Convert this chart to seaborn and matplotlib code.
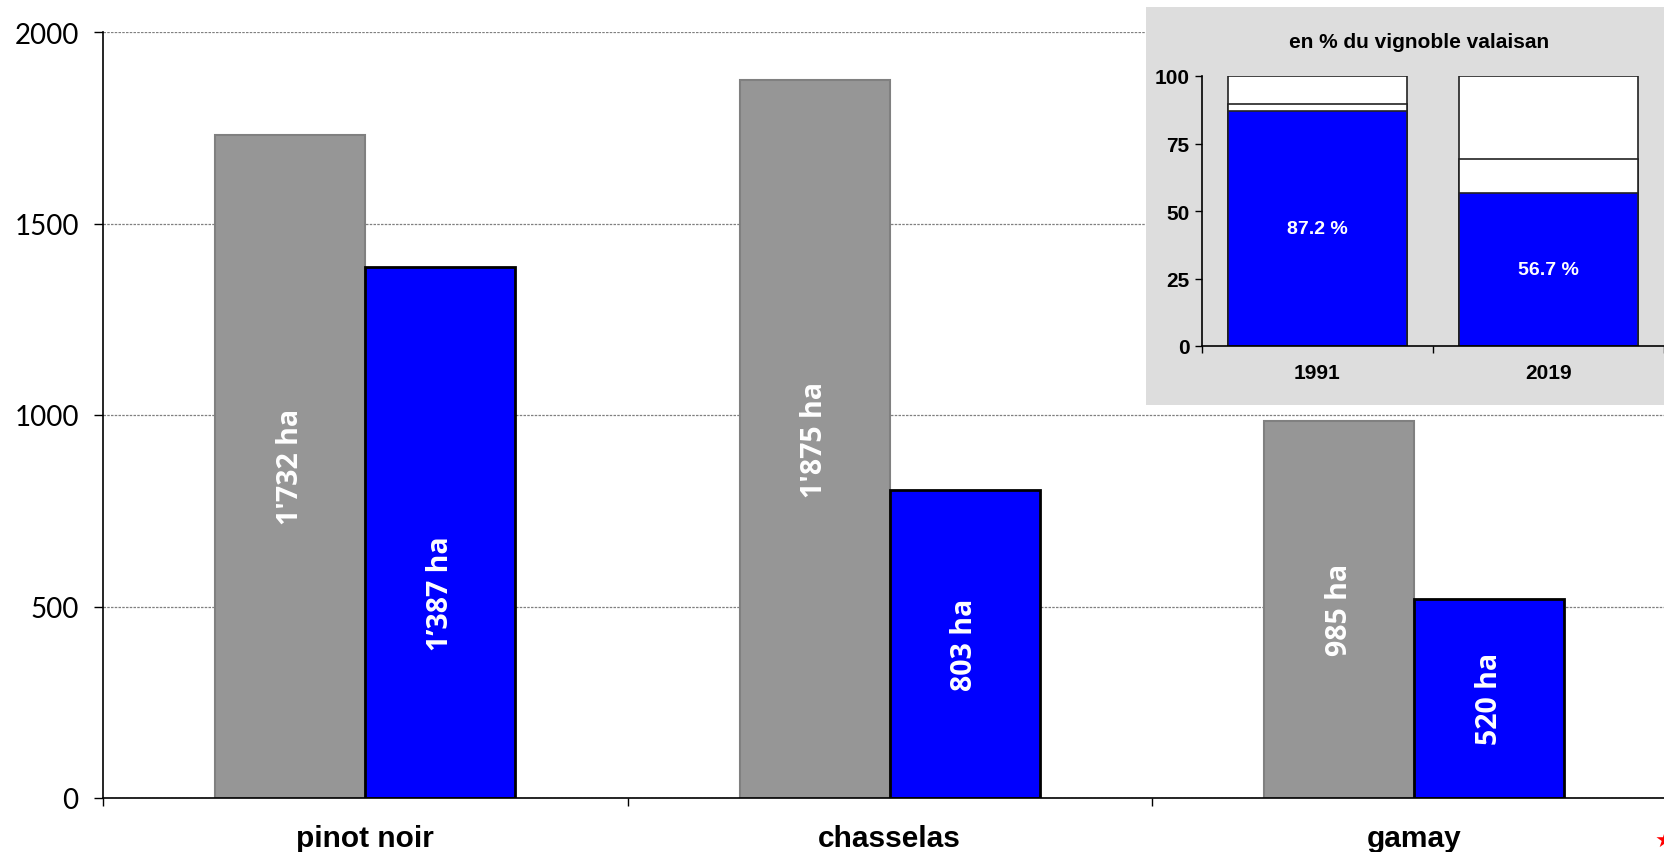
import numpy as np
import pandas as pd
import seaborn as sns
import matplotlib.pyplot as plt
from matplotlib.patches import Rectangle

# surfaces (ha) par cepage
cepages = ['pinot noir', 'chasselas', 'gamay']
annees = ['1991', '2019']
surface_1991 = [1732, 1875, 985]
surface_2019 = [1387, 803, 520]
labels_1991 = ["1'732 ha", "1'875 ha", "985 ha"]
labels_2019 = ["1\u2019387 ha", "803 ha", "520 ha"]

# encart: part du vignoble valaisan (%)
part_cepages = [87.2, 56.7]
part_autres = [2.3, 12.4]
part_reste = [10.5, 30.9]
part_labels = ['87.2 %', '56.7 %']

if __name__ == '__main__':

    sns.set_theme(style='white')
    plt.rcParams['font.family'] = ['Lato', 'DejaVu Sans']
    plt.rcParams['text.color'] = 'black'
    plt.rcParams['xtick.color'] = 'black'
    plt.rcParams['ytick.color'] = 'black'
    plt.rcParams['axes.labelcolor'] = 'black'

    df = pd.DataFrame({
        'cepage': cepages * 2,
        'annee': [annees[0]] * 3 + [annees[1]] * 3,
        'surface': surface_1991 + surface_2019,
    })

    W, H = 1665, 853
    fig = plt.figure(figsize=(W / 100, H / 100), dpi=100)
    ax = fig.add_axes([103 / W, 1 - 799 / H, 1573.5 / W, 766 / H])

    sns.barplot(data=df, x='cepage', y='surface', hue='annee', order=cepages,
                hue_order=annees, palette={'1991': '#969696', '2019': '#0000FF'},
                saturation=1, width=0.572, ax=ax, legend=False)

    edges = ['#808080', 'black']
    widths = [1.5, 2.0]
    # where the label sits inside each bar (fraction of height)
    frac = [[0.5, 0.5, 0.5], [0.386, 0.5, 0.5]]
    labels = [labels_1991, labels_2019]
    for h, cont in enumerate(ax.containers):
        for i, bar in enumerate(cont):
            bar.set_edgecolor(edges[h])
            bar.set_linewidth(widths[h])
            ax.text(bar.get_x() + bar.get_width() / 2, bar.get_height() * frac[h][i],
                    labels[h][i], rotation=90, ha='center', va='center',
                    color='white', fontsize=20.5, fontweight='bold', family='Open Sans')

    ax.set_ylim(0, 2000)
    ax.set_yticks([0, 500, 1000, 1500, 2000])
    ax.tick_params(axis='y', length=6.5, width=1, color='black', labelsize=20, pad=11, left=True)
    ax.set_xticks(range(3))
    ax.set_xticklabels(cepages, fontsize=21.5, fontweight='bold', family='Liberation Sans')
    ax.tick_params(axis='x', which='major', length=0, pad=19, bottom=False)
    ax.set_xticks([-0.5, 0.5, 1.5, 2.5], minor=True)
    ax.tick_params(axis='x', which='minor', length=6, width=1, color='black', bottom=True)
    ax.set_xlabel('')
    ax.set_ylabel('')
    ax.yaxis.grid(True, color='#808080', linestyle=(0, (2, 1)), linewidth=0.9)
    ax.set_axisbelow(True)
    for s in ['top', 'right']:
        ax.spines[s].set_visible(False)
    for s in ['left', 'bottom']:
        ax.spines[s].set_color('black')
        ax.spines[s].set_linewidth(1.2)

    # gray box behind the inset
    fig.add_artist(Rectangle((1146 / W, 1 - 406 / H), 0.35, 398 / H,
                             transform=fig.transFigure, facecolor='#DDDDDD',
                             edgecolor='none', zorder=2))

    axin = fig.add_axes([1202 / W, 1 - 347 / H, 462 / W, 270 / H], zorder=3)
    axin.set_facecolor('#DDDDDD')
    cum1 = part_cepages
    cum2 = [a + b for a, b in zip(part_cepages, part_autres)]
    cum3 = [a + b + c for a, b, c in zip(part_cepages, part_autres, part_reste)]
    for vals, col in [(cum3, 'white'), (cum2, 'white'), (cum1, '#0000FF')]:
        sns.barplot(x=annees, y=vals, color=col, saturation=1, width=0.775,
                    edgecolor='#222222', linewidth=1.2, ax=axin)
    for bar, lab in zip(axin.containers[-1], part_labels):
        axin.text(bar.get_x() + bar.get_width() / 2, bar.get_height() / 2, lab,
                  ha='center', va='center', color='white', fontsize=14,
                  fontweight='bold', family='Liberation Sans')

    axin.set_ylim(0, 100)
    axin.set_yticks([0, 25, 50, 75, 100])
    axin.set_yticklabels(['0', '25', '50', '75', '100'], fontsize=15,
                         fontweight='bold', family='Liberation Sans')
    axin.tick_params(axis='y', length=5, width=1, color='black', left=True, pad=4)
    axin.set_xticks([0, 1])
    axin.set_xticklabels(annees, fontsize=15, fontweight='bold', family='Liberation Sans')
    axin.tick_params(axis='x', which='major', length=0, pad=12)
    axin.set_xticks([-0.5, 0.5, 1.5], minor=True)
    axin.tick_params(axis='x', which='minor', length=5, width=1, color='black', bottom=True)
    axin.set_xlim(-0.5, 1.5)
    for s in ['top', 'right']:
        axin.spines[s].set_visible(False)
    for s in ['left', 'bottom']:
        axin.spines[s].set_color('black')
        axin.spines[s].set_linewidth(1.2)
    fig.text(1419 / W, 1 - 42 / H, 'en % du vignoble valaisan', fontsize=15,
             fontweight='bold', family='Liberation Sans', ha='center', va='center',
             zorder=4)

    fig.text(1655 / W, 1 - 842 / H, '\u2605', color='red', fontsize=16,
             ha='left', va='center', family='DejaVu Sans')

    fig.savefig('out.png', dpi=100)
